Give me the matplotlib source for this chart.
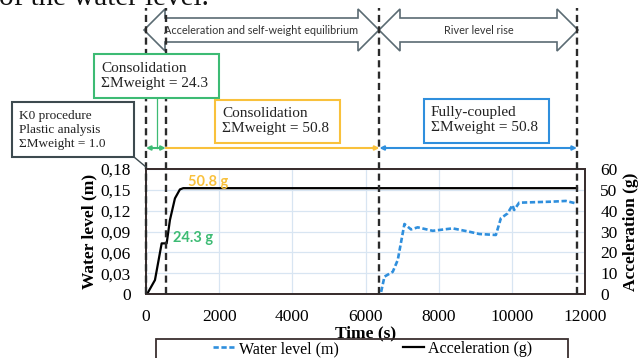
#Recreation of the water level / acceleration chart with the phase boxes on top
import matplotlib
matplotlib.use('Agg')
import matplotlib.pyplot as plt
import matplotlib.transforms as mtransforms
from matplotlib.patches import Rectangle, Polygon
from matplotlib.ticker import FixedLocator, FuncFormatter

plt.rcParams['font.family'] = ['Liberation Serif', 'DejaVu Serif']

#Acceleration of the centrifuge (g) against time (s)
acc_time = [30, 245, 428, 565, 654, 791, 927, 1018, 11780]
acc_g = [0, 6.7, 24.3, 24.3, 35.5, 45.9, 50.2, 50.8, 50.8]

#Water level (m) against time (s)
wl_time = [6427, 6518, 6745, 6882, 7064, 7245, 7427, 7836, 8382, 8836, 9109,
           9564, 9700, 9882, 10018, 10064, 10200, 11109, 11473, 11745]
wl_m = [0.003, 0.025, 0.032, 0.049, 0.1008, 0.093, 0.096, 0.091, 0.0945, 0.0897,
        0.0864, 0.085, 0.109, 0.116, 0.128, 0.121, 0.1315, 0.133, 0.134, 0.1306]

#Phase boundaries (s)
phases = [0, 540, 6380, 11780]
x_ticks = [0, 2000, 4000, 6000, 8000, 10000, 12000]
wl_ticks = [0, 0.03, 0.06, 0.09, 0.12, 0.15, 0.18]
acc_ticks = [0, 10, 20, 30, 40, 50, 60]

W, H = 638, 358
fig = plt.figure(figsize=(W / 100, H / 100), dpi=100)

def fx(x):
    return x / W

def fy(y):
    return 1 - y / H

ax = fig.add_axes([fx(146), fy(294), 439 / W, 125 / H])
ax2 = ax.twinx()

frame_col = '#3a2f2f'
blue = '#2f8fdd'
green = '#3dbb74'
orange = '#f9c13c'

#Water level (left axis)
l1, = ax.plot(wl_time, wl_m, color=blue, lw=1.9, ls=(0, (2, 1)), label='Water level (m)')
ax.set_xlim(0, 12000)
ax.set_ylim(0, 0.18)
ax.xaxis.set_major_locator(FixedLocator(x_ticks))
ax.yaxis.set_major_locator(FixedLocator(wl_ticks))
ax.yaxis.set_major_formatter(FuncFormatter(lambda v, p: '0' if v == 0 else ('%.2f' % v).replace('.', ',')))
ax.grid(True, color='#d8e5f2', lw=0.9)
ax.set_axisbelow(True)
ax.tick_params(length=0, labelsize=12.5, pad=11)

#Acceleration (right axis)
l2, = ax2.plot(acc_time, acc_g, color='black', lw=1.6, label='Acceleration (g)')
ax2.set_ylim(0, 60)
ax2.yaxis.set_major_locator(FixedLocator(acc_ticks))
ax2.tick_params(length=0, labelsize=12.5, pad=11)

for a in (ax, ax2):
    for s in a.spines.values():
        s.set_color(frame_col)
        s.set_linewidth(1.4)

ax.set_xlabel('Time (s)', fontsize=12.5, fontweight='bold', labelpad=0)
ax.set_ylabel('Water level (m)', fontsize=12.5, fontweight='bold', labelpad=2)
ax2.set_ylabel('Acceleration (g)', fontsize=12.5, fontweight='bold', labelpad=4)

ax2.text(1145, 53.8, '50.8 g', color=orange, fontsize=10.5, fontweight='bold',
         family='Lato', va='center')
ax2.text(736, 26.9, '24.3 g', color=green, fontsize=10.5, fontweight='bold',
         family='Lato', va='center')

#Vertical dashed phase lines running up to the top arrows
trans = mtransforms.blended_transform_factory(ax.transData, fig.transFigure)
for t in phases:
    fig.add_artist(plt.Line2D([t, t], [fy(294), fy(8)], transform=trans, color='#2b2b2b',
                              lw=1.7, ls=(0, (3, 1.8)), clip_on=False, zorder=2))

#Horizontal phase arrows
def harrow(t0, t1, col, both=True):
    ax.annotate('', xy=(t1, fy(148)), xytext=(t0, fy(148)), xycoords=trans, textcoords=trans,
                arrowprops=dict(arrowstyle='<|-|>' if both else '-|>', color=col, lw=1.5,
                                mutation_scale=6, shrinkA=0, shrinkB=0))

harrow(phases[0], phases[1], green)
harrow(phases[1], phases[2], orange, both=False)
harrow(phases[2], phases[3], blue)
fig.add_artist(plt.Line2D([300, 300], [fy(98), fy(148)], transform=trans, color=green, lw=0.9))

#Text boxes, drawn over the dashed lines
def box(x0, y0, x1, y1, col, lines, size, ystep):
    fig.add_artist(Rectangle((fx(x0), fy(y1)), fx(x1 - x0), (y1 - y0) / H, transform=fig.transFigure,
                             fill=True, facecolor='white', edgecolor=col, lw=1.5, zorder=5))
    for i, s in enumerate(lines):
        fig.text(fx(x0 + 7), fy(y0 + ystep * (i + 1) - 1), s, fontsize=size, va='center',
                 color='#222222', zorder=6)

box(94, 54, 219, 98, green, ['Consolidation', 'ΣMweight = 24.3'], 11, 15)
box(215, 100, 340, 143, orange, ['Consolidation', 'ΣMweight = 50.8'], 11, 14.5)
box(424, 99, 549, 143, blue, ['Fully-coupled', 'ΣMweight = 50.8'], 11, 14.5)
box(12, 102, 134, 157, '#3d4a4f', ['K0 procedure', 'Plastic analysis', 'ΣMweight = 1.0'], 9.5, 14.5)
fig.add_artist(plt.Line2D([fx(134), fx(146)], [fy(157), fy(167)], transform=fig.transFigure,
                          color='#3d4a4f', lw=1.0))

#Block arrows on top
def block_arrow(x0, x1, label):
    hw = 21
    pts = [(x0, 30), (x0 + hw, 9), (x0 + hw, 18), (x1 - hw, 18), (x1 - hw, 9), (x1, 30),
           (x1 - hw, 51), (x1 - hw, 42), (x0 + hw, 42), (x0 + hw, 51)]
    fig.add_artist(Polygon([(fx(x), fy(y)) for x, y in pts], closed=True, transform=fig.transFigure,
                           facecolor='white', edgecolor='#5b6b73', lw=1.2, zorder=1))
    fig.text(fx((x0 + x1) / 2), fy(31), label, family='Lato', fontsize=7.8, ha='center', va='center',
             color='#333333', zorder=6)

block_arrow(144, 379, 'Acceleration and self-weight equilibrium')
block_arrow(379, 578, 'River level rise')

#Cut-off caption text from the page above
fig.text(fx(-1), fy(5), 'of the water level.', fontsize=21, va='baseline', color='#111111')

#Legend with its own frame
fig.add_artist(Rectangle((fx(156), fy(362)), fx(412), 23 / H, transform=fig.transFigure,
                         fill=False, edgecolor=frame_col, lw=1.3))
fig.legend(handles=[l1, l2], loc='center', bbox_to_anchor=(fx(373), fy(349)), ncol=2,
           frameon=False, fontsize=11.5, handlelength=1.3, handletextpad=0.3, columnspacing=4.0)

fig.savefig('out.png', dpi=100)
